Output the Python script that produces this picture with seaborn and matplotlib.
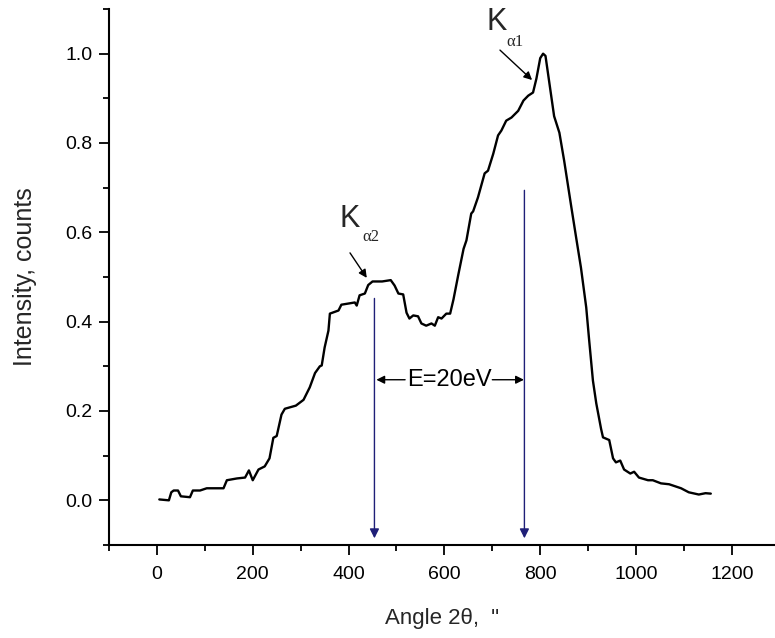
import matplotlib
matplotlib.use("Agg")
import matplotlib.pyplot as plt
import seaborn as sns
import numpy as np
import pandas as pd

# ---- data ----
angle = [5, 25, 30, 35, 44, 50, 69, 75, 90, 104, 139, 146, 167, 184, 192, 200, 212, 225,
         235, 243, 250, 260, 267, 290, 306, 319, 330, 340, 344, 350, 358, 361, 379, 385,
         402, 413, 417, 423, 434, 441, 450, 470, 488, 496, 504, 514, 521, 527, 535, 545,
         552, 562, 573, 580, 587, 594, 604, 612, 619, 629, 640, 646, 656, 660, 670, 684,
         691, 702, 712, 719, 729, 740, 754, 765, 775, 785, 792, 800, 806, 811, 819, 829,
         840, 850, 865, 875, 885, 896, 902, 910, 917, 927, 931, 944, 952, 958, 967, 975,
         988, 996, 1006, 1025, 1035, 1052, 1069, 1094, 1110, 1131, 1145, 1156]
intensity = [0.002, 0.0, 0.018, 0.022, 0.022, 0.009, 0.007, 0.022, 0.022, 0.027, 0.027,
             0.045, 0.049, 0.051, 0.067, 0.045, 0.069, 0.076, 0.094, 0.140, 0.144, 0.192,
             0.205, 0.212, 0.225, 0.253, 0.285, 0.300, 0.302, 0.342, 0.380, 0.418, 0.425,
             0.438, 0.441, 0.443, 0.436, 0.459, 0.463, 0.482, 0.490, 0.490, 0.493, 0.481,
             0.463, 0.461, 0.420, 0.407, 0.414, 0.412, 0.396, 0.391, 0.396, 0.391, 0.410,
             0.407, 0.418, 0.418, 0.450, 0.505, 0.563, 0.582, 0.642, 0.647, 0.678, 0.732,
             0.738, 0.776, 0.817, 0.828, 0.850, 0.857, 0.872, 0.895, 0.906, 0.913, 0.944,
             0.990, 1.000, 0.995, 0.935, 0.860, 0.823, 0.760, 0.656, 0.588, 0.521, 0.432,
             0.360, 0.268, 0.217, 0.160, 0.141, 0.135, 0.094, 0.085, 0.089, 0.069, 0.060,
             0.064, 0.051, 0.045, 0.045, 0.038, 0.036, 0.027, 0.018, 0.013, 0.016, 0.015]

x_ticks = [0, 200, 400, 600, 800, 1000, 1200]
y_ticks = [0.0, 0.2, 0.4, 0.6, 0.8, 1.0]
y_tick_labels = ["0.0", "0.2", "0.4", "0.6", "0.8", "1.0"]

line_k2 = 454      # position of K_alpha2 marker line
line_k1 = 767      # position of K_alpha1 marker line
line_k2_top = 0.452
line_k1_top = 0.694

df = pd.DataFrame({"angle": angle, "intensity": intensity})

sns.set_theme(style="ticks")
plt.rcParams["font.family"] = ["Liberation Sans", "DejaVu Sans"]

fig = plt.figure(figsize=(7.75, 6.38), dpi=100)
ax = fig.add_axes([109 / 775, (638 - 545) / 638, (775 - 109) / 775, (545 - 9) / 638])

sns.lineplot(data=df, x="angle", y="intensity", color="black", linewidth=1.7, ax=ax,
             sort=False)

ax.set_xlim(-100, 1290)
ax.set_ylim(-0.1, 1.1)
ax.set_xticks(x_ticks)
ax.set_xticks(np.arange(-100, 1300, 200), minor=True)
ax.set_yticks(y_ticks)
ax.set_yticklabels(y_tick_labels)
ax.set_yticks(np.arange(-0.1, 1.1, 0.2), minor=True)

for s in ["top", "right"]:
    ax.spines[s].set_visible(False)
for s in ["left", "bottom"]:
    ax.spines[s].set_linewidth(1.5)
    ax.spines[s].set_color("black")

ax.tick_params(axis="both", which="major", direction="out", length=7, width=1.3,
               labelsize=14, colors="black", pad=5)
ax.tick_params(axis="x", which="major", pad=8)
ax.tick_params(axis="both", which="minor", direction="out", length=4.5, width=1.3,
               colors="black")

ax.set_xlabel('Angle 2θ,  "', fontsize=16, labelpad=18)
ax.set_ylabel("Intensity, counts", fontsize=18, labelpad=20)

navy = "#1f1f78"
# vertical marker arrows
ax.annotate("", xy=(line_k2, -0.085), xytext=(line_k2, line_k2_top),
            arrowprops=dict(arrowstyle="-|>", color=navy, lw=1.0, mutation_scale=14,
                            shrinkA=0, shrinkB=0))
ax.annotate("", xy=(line_k1, -0.085), xytext=(line_k1, line_k1_top),
            arrowprops=dict(arrowstyle="-|>", color=navy, lw=1.0, mutation_scale=14,
                            shrinkA=0, shrinkB=0))

# energy separation
ax.text(610, 0.270, "E=20eV", fontsize=17, ha="center", va="center", color="black")
ax.annotate("", xy=(line_k2 + 4, 0.270), xytext=(518, 0.270),
            arrowprops=dict(arrowstyle="-|>", color="black", lw=1.0, mutation_scale=12,
                            shrinkA=0, shrinkB=0))
ax.annotate("", xy=(line_k1 - 1, 0.270), xytext=(700, 0.270),
            arrowprops=dict(arrowstyle="-|>", color="black", lw=1.0, mutation_scale=12,
                            shrinkA=0, shrinkB=0))

# K alpha labels
ax.text(710, 1.071, "K", fontsize=22, ha="center", va="center")
ax.text(748, 1.027, "α1", fontsize=12, ha="center", va="center",
        family=["Liberation Serif", "DejaVu Serif"])
ax.annotate("", xy=(783, 0.941), xytext=(716, 1.008),
            arrowprops=dict(arrowstyle="-|>", color="black", lw=1.0, mutation_scale=12,
                            shrinkA=0, shrinkB=0))

ax.text(403, 0.630, "K", fontsize=22, ha="center", va="center")
ax.text(446, 0.589, "α2", fontsize=12, ha="center", va="center",
        family=["Liberation Serif", "DejaVu Serif"])
ax.annotate("", xy=(438, 0.498), xytext=(403, 0.554),
            arrowprops=dict(arrowstyle="-|>", color="black", lw=1.0, mutation_scale=12,
                            shrinkA=0, shrinkB=0))

fig.savefig("out.png", dpi=100)
